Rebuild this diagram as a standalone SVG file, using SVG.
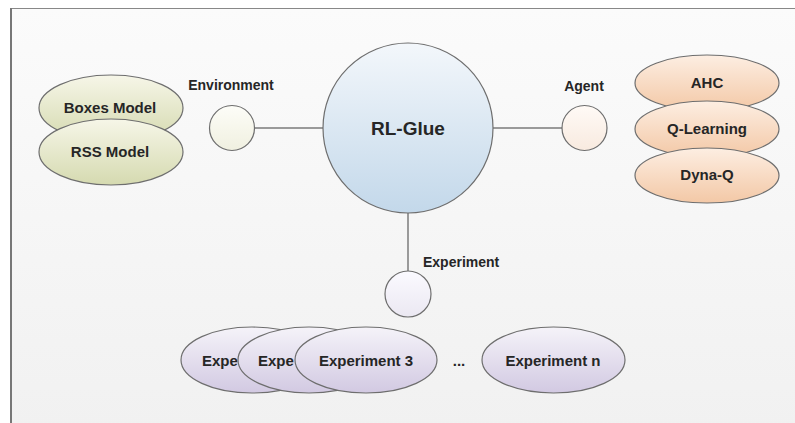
<svg xmlns="http://www.w3.org/2000/svg" width="795" height="423" viewBox="0 0 795 423">
<defs>
<linearGradient id="bg" x1="0" y1="0" x2="0" y2="1"><stop offset="0" stop-color="#fbfbfb"/><stop offset="1" stop-color="#f1f1f1"/></linearGradient>
<linearGradient id="gBlue" x1="0" y1="0" x2="0" y2="1"><stop offset="0" stop-color="#f3f7fb"/><stop offset="1" stop-color="#c3d8ea"/></linearGradient>
<linearGradient id="gGreen" x1="0" y1="0" x2="0" y2="1"><stop offset="0" stop-color="#f6f6e8"/><stop offset="1" stop-color="#d5dab0"/></linearGradient>
<linearGradient id="gOrange" x1="0" y1="0" x2="0" y2="1"><stop offset="0" stop-color="#fdeee2"/><stop offset="1" stop-color="#f3c8a6"/></linearGradient>
<linearGradient id="gPurple" x1="0" y1="0" x2="0" y2="1"><stop offset="0" stop-color="#f5f3f9"/><stop offset="1" stop-color="#d2c9e2"/></linearGradient>
<linearGradient id="sGreen" x1="0" y1="0" x2="0" y2="1"><stop offset="0" stop-color="#fdfdf8"/><stop offset="1" stop-color="#f0f0e0"/></linearGradient>
<linearGradient id="sOrange" x1="0" y1="0" x2="0" y2="1"><stop offset="0" stop-color="#fffaf6"/><stop offset="1" stop-color="#f8eadf"/></linearGradient>
<linearGradient id="sPurple" x1="0" y1="0" x2="0" y2="1"><stop offset="0" stop-color="#fbfaff"/><stop offset="1" stop-color="#ebe8f2"/></linearGradient>
</defs>
<style>
.sh{stroke:#6e6e6e;stroke-width:1.2}
.t{font-family:"Liberation Sans",Arial,sans-serif;font-weight:bold;font-size:15px;fill:#262626;text-anchor:middle}
.ts{text-anchor:start}
.lab{font-family:"Liberation Sans",Arial,sans-serif;font-weight:bold;font-size:14px;fill:#262626}
.con{stroke:#9a9a9a;stroke-width:2;fill:none}
</style>
<rect x="0" y="0" width="795" height="423" fill="#ffffff"/>
<rect x="10" y="8" width="790" height="420" fill="url(#bg)"/>
<line x1="10" y1="8.5" x2="795" y2="8.5" stroke="#888" stroke-width="1"/>
<line x1="11" y1="8" x2="11" y2="423" stroke="#777" stroke-width="2"/>

<g id="connectors">
<line class="con" x1="255" y1="128" x2="323" y2="128"/>
<line class="con" x1="493" y1="128" x2="562" y2="128"/>
<line class="con" x1="408" y1="213" x2="408" y2="271"/>
</g>

<g id="rl-glue">
<circle class="sh" cx="408" cy="128" r="85" fill="url(#gBlue)"/>
<text class="t" x="408" y="135" style="font-size:19px">RL-Glue</text>
</g>

<g id="environment">
<circle class="sh" cx="232" cy="128" r="22.5" fill="url(#sGreen)"/>
<text class="lab" x="231" y="90" text-anchor="middle">Environment</text>
</g>

<g id="agent">
<circle class="sh" cx="584.5" cy="128" r="22.5" fill="url(#sOrange)"/>
<text class="lab" x="584" y="91" text-anchor="middle">Agent</text>
</g>

<g id="experiment">
<circle class="sh" cx="408" cy="294" r="23" fill="url(#sPurple)"/>
<text class="lab" x="423" y="267">Experiment</text>
</g>

<g id="boxes-model">
<ellipse class="sh" cx="111" cy="108" rx="72" ry="33" fill="url(#gGreen)"/>
<text class="t" x="110" y="113">Boxes Model</text>
</g>
<g id="rss-model">
<ellipse class="sh" cx="111" cy="152" rx="72" ry="33" fill="url(#gGreen)"/>
<text class="t" x="110" y="157">RSS Model</text>
</g>

<g id="ahc">
<ellipse class="sh" cx="707" cy="83" rx="72" ry="28" fill="url(#gOrange)"/>
<text class="t" x="707" y="88">AHC</text>
</g>
<g id="q-learning">
<ellipse class="sh" cx="707" cy="129" rx="72" ry="28" fill="url(#gOrange)"/>
<text class="t" x="707" y="134">Q-Learning</text>
</g>
<g id="dyna-q">
<ellipse class="sh" cx="707" cy="175.5" rx="72" ry="27.5" fill="url(#gOrange)"/>
<text class="t" x="707" y="180">Dyna-Q</text>
</g>

<g id="experiment-1">
<ellipse class="sh" cx="252" cy="360" rx="71" ry="33" fill="url(#gPurple)"/>
<text class="t ts" x="202" y="366">Expe</text>
</g>
<g id="experiment-2">
<ellipse class="sh" cx="309" cy="360" rx="71" ry="33" fill="url(#gPurple)"/>
<text class="t ts" x="258" y="366">Expe</text>
</g>
<g id="experiment-3">
<ellipse class="sh" cx="366" cy="360" rx="71" ry="33" fill="url(#gPurple)"/>
<text class="t" x="366" y="366">Experiment 3</text>
</g>
<g id="dots">
<text class="t" x="459" y="366">...</text>
</g>
<g id="experiment-n">
<ellipse class="sh" cx="553.5" cy="360" rx="71.5" ry="33" fill="url(#gPurple)"/>
<text class="t" x="553" y="366">Experiment n</text>
</g>
</svg>
